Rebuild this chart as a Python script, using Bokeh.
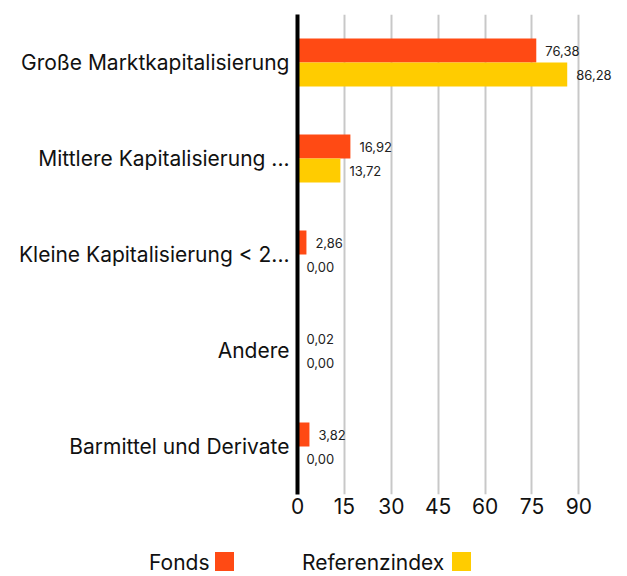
from bokeh.plotting import figure
from bokeh.models import ColumnDataSource, FactorRange, Range1d, FixedTicker, Div
from bokeh.layouts import column
from bokeh.transform import dodge
from bokeh.core.properties import value
from bokeh.embed import file_html
from bokeh.resources import INLINE

categories = ["Große Marktkapitalisierung", "Mittlere Kapitalisierung ...",
              "Kleine Kapitalisierung < 2...", "Andere", "Barmittel und Derivate"]
fonds = [76.38, 16.92, 2.86, 0.02, 3.82]
referenz = [86.28, 13.72, 0.00, 0.00, 0.00]
x_ticks = [0, 15, 30, 45, 60, 75, 90]
series_names = ["Fonds", "Referenzindex"]
series_colors = ["#ff4a14", "#ffcc00"]

FONT = "Inter"
BIG = "21px"

def fmt(v):
    return f"{v:.2f}".replace(".", ",")

src = ColumnDataSource(dict(
    cat=categories, fonds=fonds, referenz=referenz,
    fl=[fmt(v) for v in fonds], rl=[fmt(v) for v in referenz],
))

p = figure(width=619, height=530, output_backend="svg", toolbar_location=None,
           y_range=FactorRange(factors=list(reversed(categories)), range_padding=0),
           x_range=Range1d(0, 103), min_border_left=297, min_border_right=0,
           min_border_top=14, min_border_bottom=36)
p.outline_line_color = None

p.hbar(y=dodge("cat", 0.125, range=p.y_range), right="fonds", height=0.25, left=0,
       source=src, color=series_colors[0], line_color=None)
p.hbar(y=dodge("cat", -0.125, range=p.y_range), right="referenz", height=0.25, left=0,
       source=src, color=series_colors[1], line_color=None)

p.text(x="fonds", y=dodge("cat", 0.125, range=p.y_range), text="fl", source=src,
       x_offset=9, text_baseline="middle", text_font_size="13px",
       text_font=value(FONT), text_color="#222222")
p.text(x="referenz", y=dodge("cat", -0.125, range=p.y_range), text="rl", source=src,
       x_offset=9, text_baseline="middle", text_font_size="13px",
       text_font=value(FONT), text_color="#222222")

p.ygrid.grid_line_color = None
p.xgrid.grid_line_color = "#c8c8c8"
p.xgrid.grid_line_width = 2
p.xaxis.ticker = FixedTicker(ticks=x_ticks)
p.xaxis.axis_line_color = None
p.xaxis.major_tick_line_color = None
p.xaxis.minor_tick_line_color = None
p.xaxis.major_tick_out = 2
p.xaxis.major_label_text_font_size = BIG
p.xaxis.major_label_text_font = FONT
p.xaxis.major_label_text_color = "#111111"
p.xaxis.major_label_standoff = 1

p.yaxis.axis_line_color = "#000000"
p.yaxis.axis_line_width = 4
p.yaxis.major_tick_line_color = None
p.yaxis.minor_tick_line_color = None
p.yaxis.major_label_text_font_size = BIG
p.yaxis.major_label_text_font = FONT
p.yaxis.major_label_text_color = "#111111"
p.yaxis.major_label_standoff = 2

# ---- legend row: label followed by its swatch ----
label_left = [149, 302]
swatch_left = [215, 452]
parts = []
for name, color, lx, sx in zip(series_names, series_colors, label_left, swatch_left):
    parts.append(f'<span style="position:absolute;left:{lx}px;top:22px;'
                 f'line-height:21px;white-space:nowrap">{name}</span>')
    parts.append(f'<span style="position:absolute;left:{sx}px;top:22px;'
                 f'width:19px;height:19px;background:{color}"></span>')
html = ('<div style="position:relative;width:619px;height:46px;'
        f'font-family:{FONT};font-size:{BIG};color:#111111">' + "".join(parts) + '</div>')
leg = Div(text=html, width=619, height=46, margin=0)

open("out.html", "w").write(file_html(column(p, leg, spacing=0), INLINE))
